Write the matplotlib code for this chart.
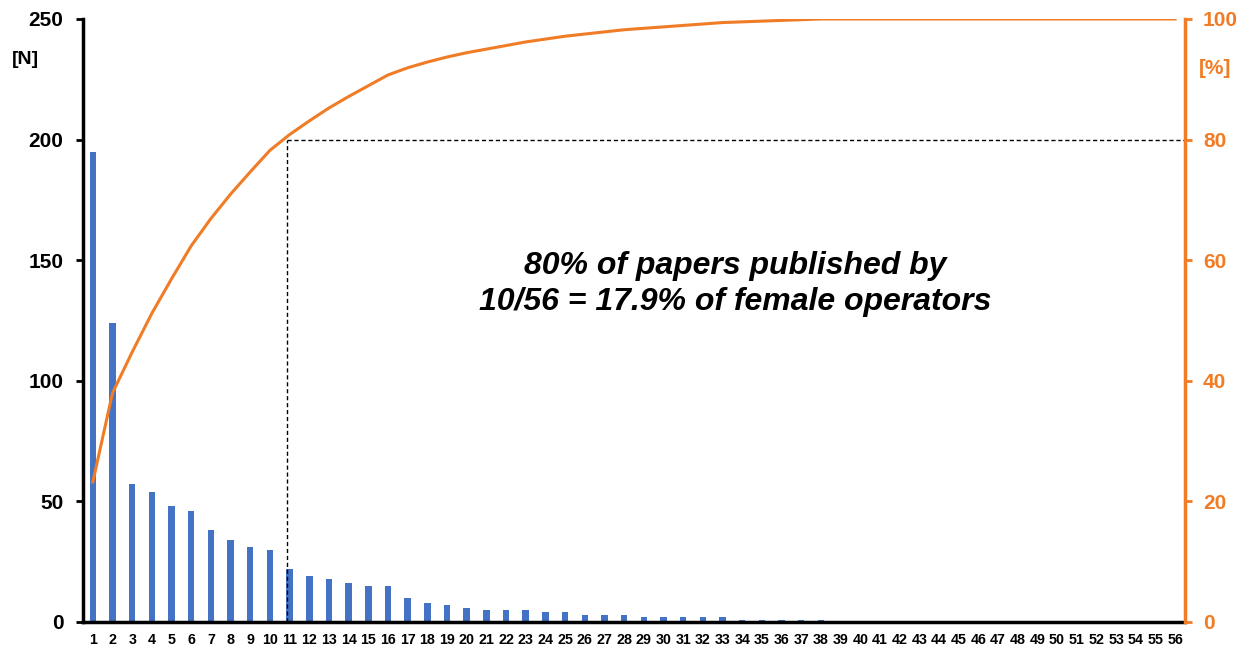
import numpy as np
import matplotlib
matplotlib.use('Agg')
import matplotlib.pyplot as plt

operators = list(range(1, 57))
papers = [195, 124, 57, 54, 48, 46, 38, 34, 31, 30,
          22, 19, 18, 16, 15, 15, 10, 8, 7, 6,
          5, 5, 5, 4, 4, 3, 3, 3, 2, 2,
          2, 2, 2, 1, 1, 1, 1, 1] + [0] * 18
left_ticks = [0, 50, 100, 150, 200, 250]
right_ticks = [0, 20, 40, 60, 80, 100]
cut_operator = 11
cut_percent = 80
note = '80% of papers published by\n10/56 = 17.9% of female operators'

blue = '#4472C4'
orange = '#F07C26'

plt.rcParams['font.family'] = ['Liberation Sans', 'DejaVu Sans']
plt.rcParams['font.weight'] = 'bold'

cum_pct = np.cumsum(papers) / np.sum(papers) * 100

fig = plt.figure(figsize=(12.46, 6.5), dpi=100)
ax = fig.add_axes([0.0666, 0.0431, 0.8844, 0.9277])
ax2 = ax.twinx()

ax.bar(operators, papers, width=0.33, color=blue, zorder=2)
ax.set_xlim(0.5, 56.5)
ax.set_ylim(0, 250)
ax.set_yticks(left_ticks)
ax.set_xticks(operators)
ax.set_xticklabels([str(o) for o in operators], fontsize=10.3, fontweight='bold')
ax.tick_params(axis='x', length=0, pad=8)
ax.tick_params(axis='y', labelsize=15, width=2, length=5, pad=9)
for s in ['top', 'right']:
    ax.spines[s].set_visible(False)
ax.spines['left'].set_linewidth(2.5)
ax.spines['bottom'].set_linewidth(2.5)
ax.spines['bottom'].set_zorder(5)

ax2.plot(operators, cum_pct, color=orange, lw=2.2, zorder=3)
ax2.set_ylim(0, 100)
ax2.set_yticks(right_ticks)
ax2.tick_params(axis='y', colors=orange, labelsize=15, width=2, length=5, pad=8)
for lab in ax2.get_yticklabels():
    lab.set_fontweight('bold')
for s in ['top', 'left', 'bottom']:
    ax2.spines[s].set_visible(False)
ax2.spines['right'].set_color(orange)
ax2.spines['right'].set_linewidth(2.5)

xc = cut_operator - 0.15
ax2.plot([xc, xc], [0, cut_percent], ls='--', color='black', lw=1, dashes=(3, 2))
ax2.plot([xc, 56.5], [cut_percent, cut_percent], ls='--', color='black', lw=1, dashes=(3, 2))

ax.text(33.65, 140, note, ha='center', va='center', fontsize=23,
        fontweight='bold', fontstyle='italic', linespacing=1.25)

fig.text(0.0096, 0.908, '[N]', fontsize=14, fontweight='bold', color='black', va='center')
fig.text(0.962, 0.895, '[%]', fontsize=15, fontweight='bold', color=orange, va='center')

fig.savefig('out.png', dpi=100)
